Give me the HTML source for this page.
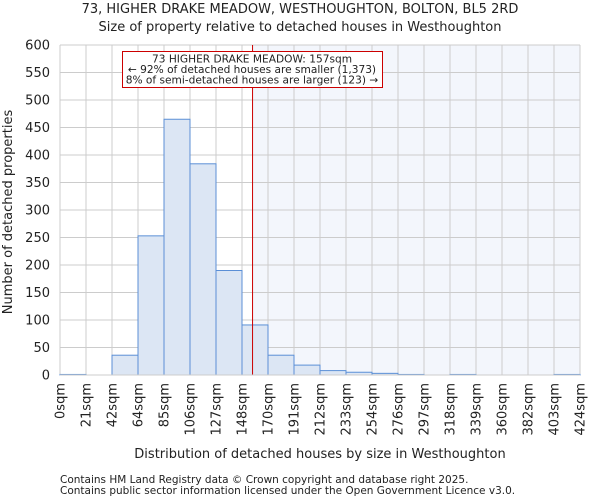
<!DOCTYPE html>
<html><head><meta charset="utf-8"><style>
body{margin:0;background:#fff;font-family:"DejaVu Sans","Liberation Sans",sans-serif}
svg text{font-family:"DejaVu Sans","Liberation Sans",sans-serif;fill:#222}
</style></head><body>
<svg id="chart" width="600" height="500">
<text x="300" y="13" font-size="13" text-anchor="middle">73, HIGHER DRAKE MEADOW, WESTHOUGHTON, BOLTON, BL5 2RD</text>
<text x="300" y="31" font-size="13" text-anchor="middle">Size of property relative to detached houses in Westhoughton</text>
<g id="grid"></g><g id="bars"></g><g id="yt"></g><g id="xt"></g>
<text transform="translate(12,212) rotate(-90)" font-size="13" text-anchor="middle">Number of detached properties</text>
<text x="320" y="458" font-size="13" text-anchor="middle">Distribution of detached houses by size in Westhoughton</text>
<text x="60" y="483" font-size="10.5">Contains HM Land Registry data © Crown copyright and database right 2025.</text>
<text x="60" y="494" font-size="10.5">Contains public sector information licensed under the Open Government Licence v3.0.</text>
</svg>
<script>
const binLabels=["0sqm","21sqm","42sqm","64sqm","85sqm","106sqm","127sqm","148sqm","170sqm","191sqm","212sqm","233sqm","254sqm","276sqm","297sqm","318sqm","339sqm","360sqm","382sqm","403sqm","424sqm"];
const counts=[1,0,36,253,465,384,190,91,36,18,8,5,3,1,0,1,0,0,0,1];
const yTicks=[0,50,100,150,200,250,300,350,400,450,500,550,600];
const propertySize=157;
const binStep=424/20;
const NS="http://www.w3.org/2000/svg";
const X0=60,X1=580,Y0=375,Y1=45,YMAX=600;
const sx=v=>X0+(v/424)*(X1-X0);
const sy=v=>Y0-(v/YMAX)*(Y0-Y1);
function mk(tag,attrs,parent){const e=document.createElementNS(NS,tag);for(const k in attrs)e.setAttribute(k,attrs[k]);document.getElementById(parent)?document.getElementById(parent).appendChild(e):parent.appendChild(e);return e;}
const px=sx(propertySize);
let r=mk("rect",{x:px,y:Y1,width:X1-px,height:Y0-Y1,fill:"#f3f6fc"},"grid");


yTicks.forEach(t=>{
 let l=mk("line",{x1:X0,x2:X1,y1:sy(t),y2:sy(t),stroke:"#cccccc","stroke-width":1},"grid");
 
 
 let tx=mk("text",{x:50,y:sy(t)+4.5,"font-size":13,"text-anchor":"end"},"yt");
 tx.textContent=t;
 
 
});
binLabels.forEach((lb,i)=>{
 const x=sx(i*binStep);
 let l=mk("line",{x1:x,x2:x,y1:Y1,y2:Y0,stroke:"#cccccc","stroke-width":1},"grid");
 
 
 let tx=mk("text",{transform:`translate(${x+4.5},${Y0+8}) rotate(-90)`,"font-size":13,"text-anchor":"end"},"xt");
 tx.textContent=lb;
 
 
});
counts.forEach((c,i)=>{
 const x=sx(i*binStep),w=sx((i+1)*binStep)-x;
 let b=mk("rect",{x:x,y:sy(c),width:w,height:Y0-sy(c),fill:"#dce6f4",stroke:"#5b8fd6","stroke-width":1},"bars");
 
 
});
let ml=mk("line",{x1:px,x2:px,y1:Y1,y2:Y0,stroke:"#cc0000","stroke-width":1},"bars");


const g=mk("g",{},"bars");


mk("rect",{x:122.5,y:51.5,width:260,height:36,fill:"#fff",stroke:"#cc0000","stroke-width":1},g);
["73 HIGHER DRAKE MEADOW: 157sqm","← 92% of detached houses are smaller (1,373)","8% of semi-detached houses are larger (123) →"].forEach((s,i)=>{
 let t=mk("text",{x:252,y:62.5+i*10.5,"font-size":10.6,"text-anchor":"middle"},g);t.textContent=s;
 
 
});
let ax=mk("line",{x1:X0,x2:X1,y1:Y0,y2:Y0,stroke:"#cccccc"},"bars");


</script>
</body></html>
